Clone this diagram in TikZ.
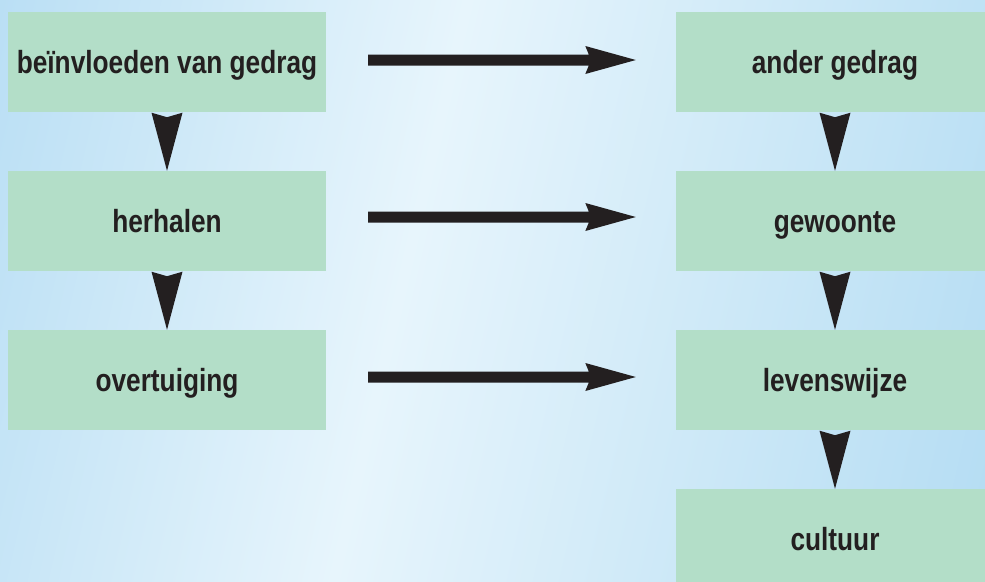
\documentclass[tikz,border=0pt]{standalone}
\usepackage{fontspec}
\setmainfont{Liberation Sans}[FakeStretch=0.82]
\usetikzlibrary{calc}
\definecolor{boxgreen}{HTML}{B3DEC8}
\definecolor{ink}{HTML}{231F20}
\definecolor{bgA}{HTML}{ACD8F2}
\definecolor{bgL}{HTML}{E7F5FC}
\definecolor{bgB}{HTML}{A9D7F1}
\pgfdeclarehorizontalshading{bgshade}{100bp}{color(0bp)=(bgA); color(12bp)=(bgA); color(45bp)=(bgL); color(88bp)=(bgB); color(100bp)=(bgB)}
\newcommand\vconn[2]{%
  \fill[ink] ($(#1.south)+(-15.5,0.5)$) -- (#2.north) -- ($(#1.south)+(15.5,0.5)$) -- ($(#1.south)+(0,5)$) -- cycle;}
\newcommand\hconn[3]{%
  \fill[ink] ($(#1.east)+(42,#3-5.5)$) -- ($(#2.west)+(-87,#3-5.5)$) -- ($(#2.west)+(-90.5,#3-14)$)
    -- ($(#2.west)+(-40,#3)$) -- ($(#2.west)+(-90.5,#3+14)$) -- ($(#2.west)+(-87,#3+5.5)$)
    -- ($(#1.east)+(42,#3+5.5)$) -- cycle;}
\begin{document}
\begin{tikzpicture}[x=1pt,y=-1pt,
  box/.style={rectangle, fill=boxgreen, minimum width=318pt, minimum height=100pt,
    inner sep=0pt, font=\fontsize{32}{38}\selectfont\bfseries, text=ink,
    text height=23pt, text depth=0pt}]
\useasboundingbox (0,0) rectangle (985,581);
\clip (0,0) rectangle (985,581);
\shade[shading=bgshade, shading angle=-13] (0,0) rectangle (985,581);
\node[box] (l1) at (167,62) {beïnvloeden van gedrag};
\node[box] (l2) at (167,221) {herhalen};
\node[box] (l3) at (167,380) {overtuiging};
\node[box] (r1) at (835,62) {ander gedrag};
\node[box] (r2) at (835,221) {gewoonte};
\node[box] (r3) at (835,380) {levenswijze};
\node[box] (r4) at (835,539) {cultuur};
\vconn{l1}{l2}
\vconn{l2}{l3}
\vconn{r1}{r2}
\vconn{r2}{r3}
\vconn{r3}{r4}
\hconn{l1}{r1}{-2}
\hconn{l2}{r2}{-4}
\hconn{l3}{r3}{-3}
\end{tikzpicture}
\end{document}
